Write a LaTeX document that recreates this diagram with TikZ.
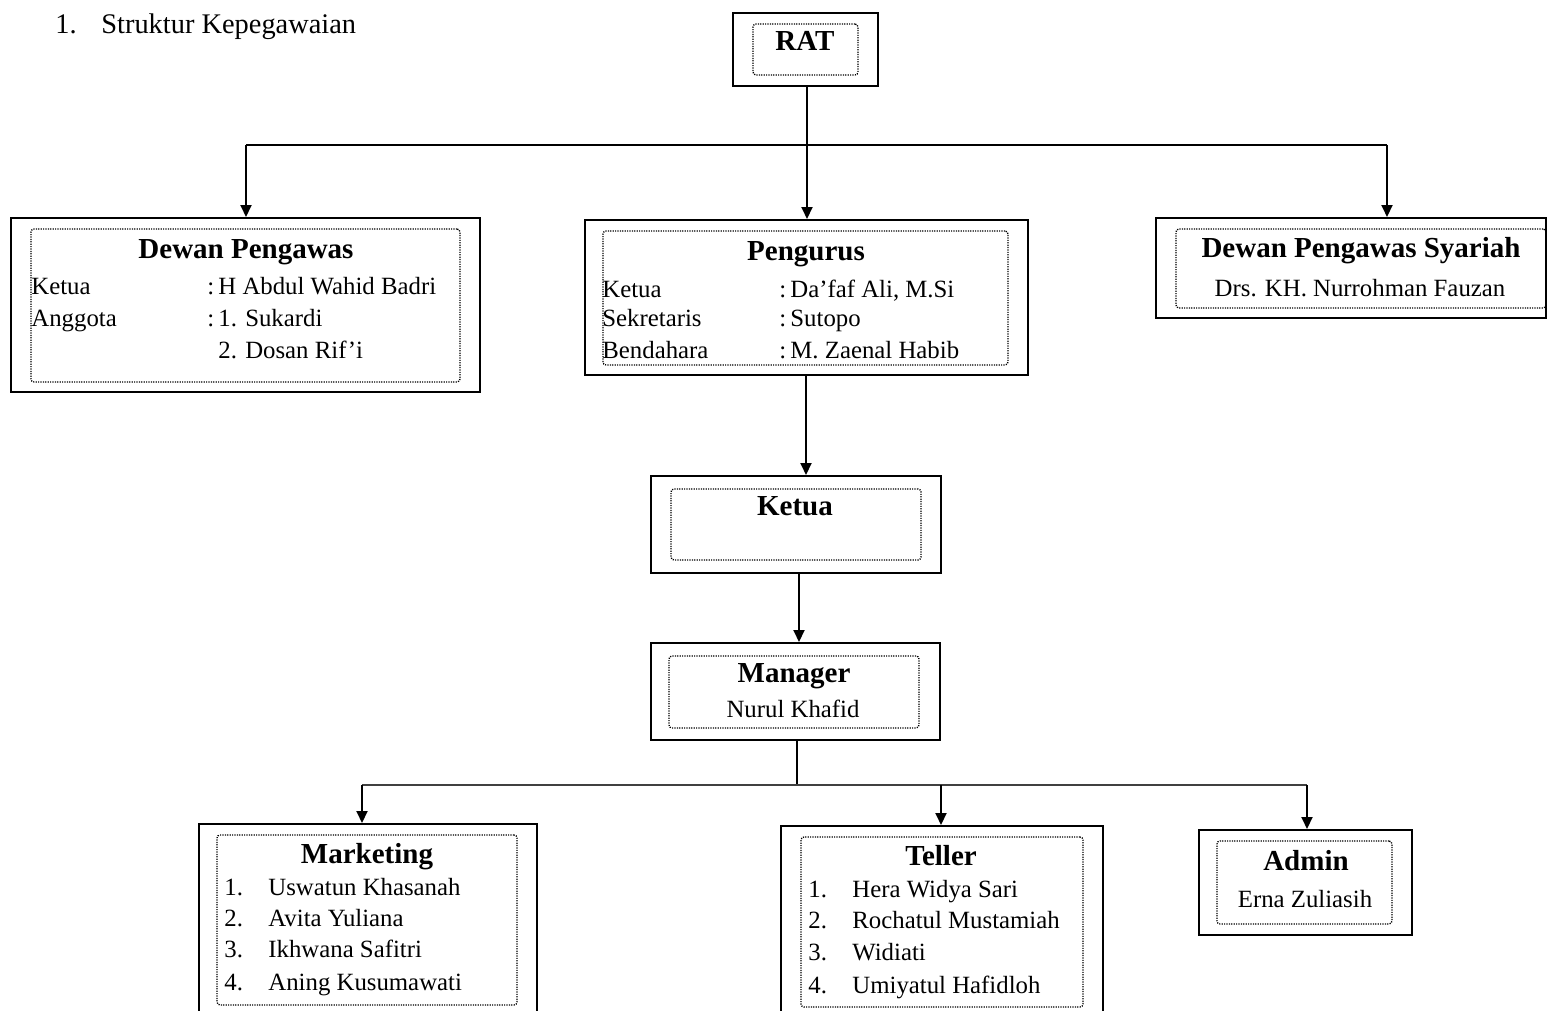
\documentclass[tikz,border=0pt]{standalone}
\usepackage{fontspec}
\setmainfont{Liberation Serif}
\usetikzlibrary{arrows.meta,fit,calc}
\newcommand{\ttlfont}{\fontsize{14.5}{17}\selectfont\bfseries}
\newcommand{\txtfont}{\fontsize{12.4}{14}\selectfont}
\newcommand{\hdfont}{\fontsize{14.2}{17}\selectfont}
\begin{document}
\begin{tikzpicture}[x=0.5pt,y=-0.5pt,
  outer/.style={draw, line width=1pt, inner sep=0pt},
  inner/.style={draw, line width=0.65pt, dash pattern=on 0.6pt off 0.6pt, rounded corners=1.5pt, inner sep=0pt},
  ttl/.style={font=\ttlfont, anchor=mid, inner sep=0pt, yshift=-2.5pt},
  ctr/.style={font=\txtfont, anchor=mid, inner sep=0pt, yshift=-2.5pt},
  txt/.style={font=\txtfont, anchor=mid west, inner sep=0pt, yshift=-2.5pt},
  conn/.style={line width=1pt},
  arr/.style={line width=1pt, -{Triangle[length=6pt,width=5.5pt]}}]
\useasboundingbox (0,0) rectangle (1548,1011);
\clip (0,0) rectangle (1548,1011);
\fill[white] (0,0) rectangle (1548,1011);

% heading
\node[font=\hdfont, anchor=mid west, inner sep=0pt, yshift=-2.5pt] (hnum) at (55,24) {1.};
\node[font=\hdfont, anchor=mid west, inner sep=0pt, yshift=-2.5pt] (htxt) at (101,24) {Struktur Kepegawaian};

% RAT
\node[outer, fit={(733,13) (878,86)}] (rat) {};
\node[inner, fit={(753,24) (858,75)}] (ratin) {};
\node[ttl] (ratt) at (805,41) {RAT};

% Dewan Pengawas
\node[outer, fit={(11,218) (480,392)}] (dp) {};
\node[inner, fit={(31,229) (460,382)}] (dpin) {};
\node[ttl] (dpt) at (246,249) {Dewan Pengawas};
\node[txt] (dp1) at (31,285) {Ketua};
\node[txt] (dp2) at (31,317) {Anggota};
\node[txt] (dp1v) at (207,285) {:\,H Abdul Wahid Badri};
\node[txt] (dp2v) at (207,317) {:\,1. Sukardi};
\node[txt] (dp3v) at (218,349) {2. Dosan Rif’i};

% Pengurus
\node[outer, fit={(585,220) (1028,375)}] (pg) {};
\node[inner, fit={(603,231) (1008,365)}] (pgin) {};
\node[ttl] (pgt) at (806,251) {Pengurus};
\node[txt] (pg1) at (602,288) {Ketua};
\node[txt] (pg2) at (602,317) {Sekretaris};
\node[txt] (pg3) at (602,349) {Bendahara};
\node[txt] (pg1v) at (779,288) {:\,Da’faf Ali, M.Si};
\node[txt] (pg2v) at (779,317) {:\,Sutopo};
\node[txt] (pg3v) at (779,349) {:\,M. Zaenal Habib};

% Dewan Pengawas Syariah
\node[outer, fit={(1156,218) (1546,318)}] (dps) {};
\node[inner, fit={(1176,229) (1546,308)}] (dpsin) {};
\node[ttl] (dpst) at (1361,248) {Dewan Pengawas Syariah};
\node[ctr] (dpsn) at (1360,287) {Drs. KH. Nurrohman Fauzan};

% Ketua
\node[outer, fit={(651,476) (941,573)}] (kt) {};
\node[inner, fit={(671,489) (921,560)}] (ktin) {};
\node[ttl] (ktt) at (795,506) {Ketua};

% Manager
\node[outer, fit={(651,643) (940,740)}] (mg) {};
\node[inner, fit={(669,656) (919,728)}] (mgin) {};
\node[ttl] (mgt) at (794,673) {Manager};
\node[ctr] (mgn) at (793,708) {Nurul Khafid};

% Marketing
\node[outer, fit={(199,824) (537,1030)}] (mk) {};
\node[inner, fit={(217,835) (517,1005)}] (mkin) {};
\node[ttl] (mkt) at (367,854) {Marketing};
\node[txt] (mk1n) at (224,886) {1.};
\node[txt] (mk2n) at (224,917) {2.};
\node[txt] (mk3n) at (224,948) {3.};
\node[txt] (mk4n) at (224,981) {4.};
\node[txt] (mk1) at (268,886) {Uswatun Khasanah};
\node[txt] (mk2) at (268,917) {Avita Yuliana};
\node[txt] (mk3) at (268,948) {Ikhwana Safitri};
\node[txt] (mk4) at (268,981) {Aning Kusumawati};

% Teller
\node[outer, fit={(781,826) (1103,1030)}] (tl) {};
\node[inner, fit={(801,837) (1083,1007)}] (tlin) {};
\node[ttl] (tlt) at (941,856) {Teller};
\node[txt] (tl1n) at (808,888) {1.};
\node[txt] (tl2n) at (808,919) {2.};
\node[txt] (tl3n) at (808,951) {3.};
\node[txt] (tl4n) at (808,984) {4.};
\node[txt] (tl1) at (852,888) {Hera Widya Sari};
\node[txt] (tl2) at (852,919) {Rochatul Mustamiah};
\node[txt] (tl3) at (852,951) {Widiati};
\node[txt] (tl4) at (852,984) {Umiyatul Hafidloh};

% Admin
\node[outer, fit={(1199,830) (1412,935)}] (ad) {};
\node[inner, fit={(1217,841) (1392,924)}] (adin) {};
\node[ttl] (adt) at (1306,861) {Admin};
\node[ctr] (adn) at (1305,898) {Erna Zuliasih};

% connectors top
\coordinate (b1) at (807,145);
\coordinate (b1l) at (246,145);
\coordinate (b1r) at (1387,145);
\draw[conn] (rat.south -| b1) -- (b1);
\draw[conn] (b1l) -- (b1r);
\draw[arr] (b1l) -- (b1l |- dp.north);
\draw[arr] (b1) -- (b1 |- pg.north);
\draw[arr] (b1r) -- (b1r |- dps.north);

% Pengurus -> Ketua -> Manager
\coordinate (c1) at (806,375);
\draw[arr] (c1) -- (c1 |- kt.north);
\coordinate (c2) at (799,573);
\draw[arr] (c2) -- (c2 |- mg.north);

% bottom bus
\coordinate (b2) at (797,785);
\coordinate (b2l) at (362,785);
\coordinate (b2m) at (941,785);
\coordinate (b2r) at (1307,785);
\draw[conn] (mg.south -| b2) -- (b2);
\draw[line width=1.3pt, black!75] (b2l) -- (b2r);
\draw[arr] (b2l) -- (b2l |- mk.north);
\draw[arr] (b2m) -- (b2m |- tl.north);
\draw[arr] (b2r) -- (b2r |- ad.north);
\end{tikzpicture}
\end{document}
